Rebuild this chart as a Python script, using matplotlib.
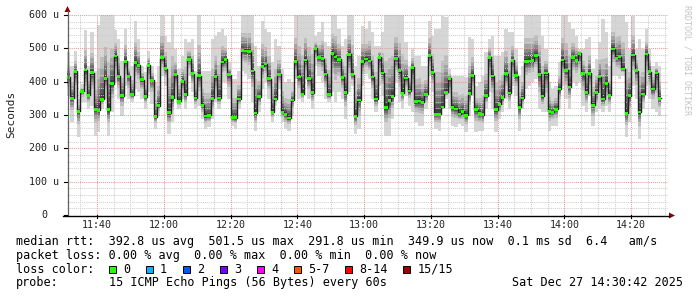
import numpy as np
import matplotlib
matplotlib.use("Agg")
import matplotlib.pyplot as plt
from matplotlib.lines import Line2D
from matplotlib.patches import Polygon, Rectangle
from matplotlib.transforms import blended_transform_factory

# ---------------- data ----------------
start_time = "11:31"          # left edge of the time axis
end_time = "14:31"            # right edge of the time axis
# median RTT per 60 s sample, microseconds
median_us = [
    413, 350, 431, 311, 371, 435, 359, 427, 317, 314, 347, 410, 316, 394, 477, 416, 358, 461, 416, 361,
    458, 449, 406, 355, 449, 404, 295, 328, 472, 439, 307, 352, 421, 341, 401, 361, 467, 424, 351, 418,
    329, 297, 299, 350, 416, 351, 459, 467, 421, 292, 292, 348, 494, 492, 490, 432, 306, 355, 446, 453,
    409, 308, 348, 422, 308, 302, 291, 345, 461, 414, 362, 465, 409, 367, 500, 473, 469, 423, 361, 484,
    474, 467, 413, 367, 482, 421, 296, 345, 460, 468, 462, 414, 348, 473, 426, 322, 343, 356, 470, 433,
    365, 411, 372, 443, 340, 342, 338, 362, 478, 427, 302, 302, 324, 368, 410, 323, 318, 303, 311, 299,
    364, 419, 316, 305, 301, 358, 473, 417, 316, 332, 353, 424, 366, 464, 418, 323, 351, 461, 462, 463,
    478, 422, 357, 426, 311, 308, 317, 378, 465, 434, 384, 473, 464, 485, 424, 367, 425, 329, 368, 415,
    348, 395, 359, 498, 470, 475, 438, 305, 358, 480, 433, 309, 363, 483, 430, 378, 426, 350,
]
# highest ping of each sample (top of the smoke), microseconds
smoke_hi_us = [
    488, 448, 493, 348, 393, 556, 448, 548, 433, 570, 600, 600, 600, 600, 556, 528, 463, 558, 463, 448,
    583, 528, 448, 428, 493, 448, 398, 448, 600, 538, 518, 600, 498, 438, 478, 528, 518, 528, 433, 600,
    433, 433, 433, 528, 538, 548, 558, 538, 458, 408, 408, 433, 600, 600, 600, 600, 508, 448, 583, 558,
    548, 458, 528, 508, 438, 398, 408, 398, 600, 600, 600, 600, 600, 600, 538, 548, 578, 518, 508, 600,
    600, 558, 508, 528, 600, 600, 448, 478, 568, 558, 583, 548, 508, 508, 548, 600, 600, 600, 600, 600,
    600, 518, 448, 498, 478, 478, 448, 448, 583, 538, 558, 558, 598, 593, 438, 418, 418, 418, 418, 413,
    533, 528, 388, 398, 418, 488, 528, 538, 478, 478, 488, 558, 548, 548, 498, 418, 448, 600, 600, 600,
    600, 600, 538, 498, 398, 378, 388, 458, 600, 600, 578, 558, 538, 498, 498, 528, 533, 438, 468, 518,
    588, 548, 448, 600, 600, 600, 600, 578, 498, 598, 498, 528, 498, 558, 498, 448, 458, 448,
]
# lowest ping of each sample (bottom of the smoke), microseconds
smoke_lo_us = [
    358, 278, 348, 233, 338, 338, 318, 328, 238, 248, 318, 348, 238, 308, 398, 348, 298, 388, 348, 338,
    378, 368, 348, 318, 368, 333, 258, 298, 418, 388, 243, 278, 348, 318, 348, 318, 418, 368, 318, 328,
    288, 258, 263, 288, 338, 318, 398, 398, 348, 268, 258, 318, 433, 423, 408, 338, 253, 308, 378, 398,
    348, 278, 328, 378, 278, 258, 253, 298, 408, 348, 338, 408, 348, 318, 448, 418, 398, 348, 338, 368,
    338, 368, 348, 288, 368, 388, 243, 258, 388, 423, 408, 348, 308, 388, 358, 238, 238, 288, 398, 338,
    318, 358, 328, 308, 278, 268, 268, 318, 418, 368, 258, 253, 318, 348, 318, 268, 263, 273, 268, 248,
    298, 358, 248, 253, 253, 318, 368, 318, 248, 288, 308, 348, 318, 388, 358, 253, 318, 378, 388, 398,
    408, 318, 308, 308, 253, 268, 268, 318, 388, 348, 318, 398, 388, 398, 328, 308, 358, 268, 308, 318,
    308, 328, 308, 418, 418, 408, 418, 233, 278, 388, 348, 228, 318, 388, 348, 318, 308, 298,
]
time_labels = ["11:40", "12:00", "12:20", "12:40", "13:00", "13:20", "13:40", "14:00", "14:20"]
y_ticks = [0, 100, 200, 300, 400, 500, 600]
y_tick_labels = ["0", "100 u", "200 u", "300 u", "400 u", "500 u", "600 u"]
loss_labels = ["0", "1", "2", "3", "4", "5-7", "8-14", "15/15"]
loss_colors = ["#22ff00", "#00b4ff", "#0055ff", "#7a00ff", "#ff00ff", "#ff5500", "#ff0000", "#9a0000"]
legend_line1 = "median rtt:  392.8 us avg  501.5 us max  291.8 us min  349.9 us now  0.1 ms sd  6.4   am/s"
legend_line2 = "packet loss: 0.00 % avg  0.00 % max  0.00 % min  0.00 % now"
probe_text = "15 ICMP Echo Pings (56 Bytes) every 60s"
stamp_text = "Sat Dec 27 14:30:42 2025"

# ---------------- figure ----------------
W, H = 697, 297
fig = plt.figure(figsize=(W / 100, H / 100), dpi=100, facecolor="white")
PL, PR, PT, PB = 67, 668, 15, 215
ax = fig.add_axes([PL / W, 1 - PB / H, (PR - PL) / W, (PB - PT) / H])
ax.set_facecolor("white")


def tmin(s):
    h, m = s.split(":")
    return int(h) * 60 + int(m)


t0 = tmin(start_time)
span = tmin(end_time) - t0
ax.set_xlim(0, span)
ax.set_ylim(0, 600)

med = np.array(median_us, float)
hi = np.maximum(np.array(smoke_hi_us, float), med)
lo = np.minimum(np.array(smoke_lo_us, float), med)
n = len(med)
edges = np.arange(n + 1)


def ext(a):
    return np.append(a, a[-1])


# smoke: 7 nested layers, outer light -> inner dark
layer_frac = [1.0, 0.5, 0.37, 0.27, 0.19, 0.12, 0.06]
layer_col = ["#d6d6d6", "#bdbdbd", "#a4a4a4", "#8a8a8a", "#717171", "#585858", "#3e3e3e"]
for k, (f, c) in enumerate(zip(layer_frac, layer_col)):
    up = med + (hi - med) * f
    dn = med - (med - lo) * f
    ax.fill_between(edges, ext(dn), ext(up), step="post", color=c, lw=0,
                    zorder=1 + k * 0.1, antialiased=False)

# grid
minor_x = np.arange(4, span, 5)
minor_y = np.arange(20, 600, 20)
major_x = [tmin(t) - t0 for t in time_labels]
dot = (0, (1, 1))
for x in minor_x:
    if x not in major_x:
        ax.axvline(x, color="#cfcfcf", lw=0.75, ls=dot, zorder=2)
for y in minor_y:
    if y % 100:
        ax.axhline(y, color="#cfcfcf", lw=0.75, ls=dot, zorder=2)
for x in major_x:
    ax.axvline(x, color="#e79a9a", lw=0.75, ls=dot, zorder=2.1)
for y in y_ticks[1:]:
    ax.axhline(y, color="#e79a9a", lw=0.75, ls=dot, zorder=2.1)

# median line and loss-coloured band (0 loss everywhere)
ax.step(edges, ext(med), where="post", color="#202020", lw=1.0, zorder=3)
ax.fill_between(edges, ext(med - 4), ext(med + 4), step="post", color=loss_colors[0],
                lw=0, zorder=4)

for s in ax.spines.values():
    s.set_visible(False)
ax.set_xticks([])
ax.set_yticks([])


def fx(px):
    return px / W


def fy(py):
    return 1 - py / H


# axes lines, ticks and arrows
fig.add_artist(Line2D([fx(PL + 0.5), fx(PL + 0.5)], [fy(PB), fy(11)], color="#606060", lw=0.9))
fig.add_artist(Line2D([fx(63), fx(669)], [fy(PB + 0.5), fy(PB + 0.5)], color="black", lw=1.0))
fig.add_artist(Polygon([[fx(PL + 0.5 - 3), fy(12)], [fx(PL + 0.5 + 3), fy(12)], [fx(PL + 0.5), fy(6)]],
                       closed=True, color="#8b0000", lw=0))
fig.add_artist(Polygon([[fx(669), fy(PB + 0.5 - 3)], [fx(669), fy(PB + 0.5 + 3)], [fx(675), fy(PB + 0.5)]],
                       closed=True, color="#8b0000", lw=0))

bx = blended_transform_factory(ax.transData, fig.transFigure)
by = blended_transform_factory(fig.transFigure, ax.transData)
for x, lab in zip(major_x, time_labels):
    fig.add_artist(Line2D([x, x], [fy(PB), fy(PB + 3)], color="black", lw=0.8, transform=bx))
    fig.text(x, fy(224.5), lab, transform=bx, ha="center", va="center",
             family="DejaVu Sans Mono", fontsize=7.2, color="#222222")
for y, lab in zip(y_ticks, y_tick_labels):
    fig.add_artist(Line2D([fx(PL - 3), fx(PL)], [y, y], color="black", lw=0.8, transform=by))
    xr = 59 if lab != "0" else 47.5
    fig.text(fx(xr), y, lab, transform=by, ha="right", va="center",
             family="DejaVu Sans Mono", fontsize=7.2, color="#222222")

fig.text(fx(11.5), fy(114), "Seconds", rotation=90, ha="center", va="center",
         family="DejaVu Sans Mono", fontsize=8.0, color="#222222")
fig.text(fx(687.5), fy(60), "RRDTOOL / TOBI OETIKER", rotation=270, ha="center", va="center",
         family="DejaVu Sans Mono", fontsize=6.0, color="#c4c4c4")

# legend
mono = dict(family="DejaVu Sans Mono", fontsize=8.5, color="black", va="center", ha="left")
cw = 7.12
fig.text(fx(16), fy(241.7), legend_line1, **mono)
fig.text(fx(16), fy(255.2), legend_line2, **mono)
fig.text(fx(16), fy(269.2), "loss color:", **mono)
fig.text(fx(16), fy(282.8), "probe:", **mono)
fig.text(fx(16 + 13 * cw), fy(282.8), probe_text, **mono)
fig.text(fx(512.5), fy(282.8), stamp_text, **mono)

bxp = 108.8
for lab, col in zip(loss_labels, loss_colors):
    fig.add_artist(Rectangle((fx(bxp), fy(273)), 7 / W, 7 / H, facecolor=col,
                             edgecolor="black", lw=0.7, transform=fig.transFigure))
    fig.text(fx(bxp + 14.2), fy(269.2), lab, **mono)
    bxp += 37 + (len(lab) - 1) * cw

fig.savefig("out.png", dpi=100, facecolor="white")
